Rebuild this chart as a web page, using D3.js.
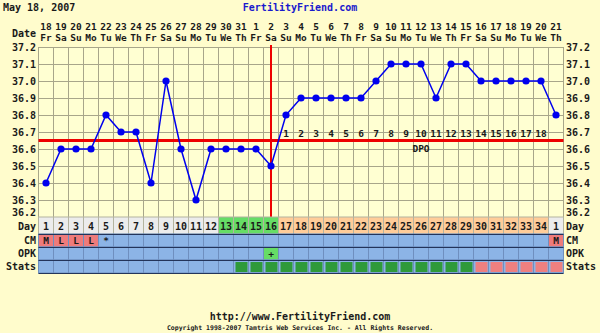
<!DOCTYPE html>
<html>
<head>
<meta charset="utf-8">
<script src="https://cdn.jsdelivr.net/npm/d3@7"></script>
<style>
  body { margin: 0; background: #fffccc; }
  svg { display: block; }
  text { font-family: "DejaVu Sans Mono", monospace; font-weight: bold; }
</style>
</head>
<body>
<div id="chart"></div>
<script>
// chart data
let dates = [18, 19, 20, 21, 22, 23, 24, 25, 26, 27, 28, 29, 30, 31,
  1, 2, 3, 4, 5, 6, 7, 8, 9, 10, 11, 12, 13, 14, 15, 16, 17, 18, 19, 20, 21];
let weekdays = ["Fr", "Sa", "Su", "Mo", "Tu", "We", "Th"];
let cycleDays = [1, 2, 3, 4, 5, 6, 7, 8, 9, 10, 11, 12, 13, 14, 15, 16, 17,
  18, 19, 20, 21, 22, 23, 24, 25, 26, 27, 28, 29, 30, 31, 32, 33, 34, 1];
let temps = [36.4, 36.6, 36.6, 36.6, 36.8, 36.7, 36.7, 36.4, 37.0, 36.6, 36.3,
  36.6, 36.6, 36.6, 36.6, 36.5, 36.8, 36.9, 36.9, 36.9, 36.9, 36.9, 37.0,
  37.1, 37.1, 37.1, 36.9, 37.1, 37.1, 37.0, 37.0, 37.0, 37.0, 37.0, 36.8];
let tempTicks = [36.2, 36.3, 36.4, 36.5, 36.6, 36.7, 36.8, 36.9, 37.0, 37.1, 37.2];
let coverline = 36.65;
let ovulationDay = 16; // cycle day index (1 based)
let dpo = [1, 2, 3, 4, 5, 6, 7, 8, 9, 10, 11, 12, 13, 14, 15, 16, 17, 18];
// day row colour groups: "n" normal, "f" fertile, "l" luteal
let dayType = ["n", "n", "n", "n", "n", "n", "n", "n", "n", "n", "n", "n",
  "f", "f", "f", "f",
  "l", "l", "l", "l", "l", "l", "l", "l", "l", "l", "l", "l", "l", "l", "l", "l", "l", "l",
  "n"];
let cm = ["M", "L", "L", "L", "*", "", "", "", "", "", "", "", "", "", "", "", "",
  "", "", "", "", "", "", "", "", "", "", "", "", "", "", "", "", "", "M"];
let opk = ["", "", "", "", "", "", "", "", "", "", "", "", "", "", "", "+", "",
  "", "", "", "", "", "", "", "", "", "", "", "", "", "", "", "", "", ""];
// stats: "" none, "g" green, "p" pink
let stats = ["", "", "", "", "", "", "", "", "", "", "", "", "",
  "g", "g", "g", "g", "g", "g", "g", "g", "g", "g", "g", "g", "g", "g", "g", "g",
  "p", "p", "p", "p", "p", "p"];

let attrs = {
  width: 600,
  height: 333,
  left: 38.5,
  right: 563.5,
  top: 47,
  bottom: 217,
  gridColor: "#a8a68a",
  lineColor: "#0000ee",
  red: "#ee0000",
  blue: "#8cb4e6",
  navy: "#23345a",
  textColor: "#1a1a1a",
};

let svg = d3
  .select("#chart")
  .append("svg")
  .attr("width", attrs.width)
  .attr("height", attrs.height);

let idx = d3.range(temps.length);
let x = d3.scaleBand().domain(idx).range([attrs.left, attrs.right]);
let y = d3.scaleLinear().domain([36.2, 37.2]).range([attrs.bottom, attrs.top]);
let cx = (i) => x(i) + x.bandwidth() / 2;

// header
svg.append("text").attr("x", 3).attr("y", 11).attr("font-size", 10)
  .attr("fill", attrs.textColor).text("May 18, 2007");
svg.append("text").attr("x", 300).attr("y", 11).attr("font-size", 10)
  .attr("text-anchor", "middle").attr("fill", "#1a1acc").text("FertilityFriend.com");

// plot background
svg.append("rect")
  .attr("x", attrs.left).attr("y", attrs.top)
  .attr("width", attrs.right - attrs.left).attr("height", attrs.bottom - attrs.top)
  .attr("fill", "#ffffd2");

// grid
svg.append("g").selectAll("line").data(tempTicks).enter().append("line")
  .attr("x1", attrs.left).attr("x2", attrs.right)
  .attr("y1", (d) => Math.round(y(d)) + 0.5).attr("y2", (d) => Math.round(y(d)) + 0.5)
  .attr("stroke", attrs.gridColor);
svg.append("g").selectAll("line").data(d3.range(temps.length + 1)).enter().append("line")
  .attr("x1", (i) => attrs.left + i * x.bandwidth())
  .attr("x2", (i) => attrs.left + i * x.bandwidth())
  .attr("y1", attrs.top).attr("y2", attrs.bottom)
  .attr("stroke", attrs.gridColor);

// date labels
svg.append("text").attr("x", 36).attr("y", 37).attr("font-size", 10)
  .attr("text-anchor", "end").attr("fill", attrs.textColor).text("Date");
svg.append("g").selectAll("text").data(dates).enter().append("text")
  .attr("x", (d, i) => cx(i)).attr("y", 30).attr("font-size", 9.5)
  .attr("text-anchor", "middle").attr("fill", attrs.textColor).text((d) => d);
svg.append("g").selectAll("text").data(dates).enter().append("text")
  .attr("x", (d, i) => cx(i)).attr("y", 41).attr("font-size", 9.5)
  .attr("text-anchor", "middle").attr("fill", attrs.textColor)
  .text((d, i) => weekdays[i % 7]);

// temperature axes (bottom label kept above the Day row)
let fmt = d3.format(".1f");
let labelY = (d) => Math.min(y(d) + 4, attrs.bottom - 1);
svg.append("g").selectAll("text").data(tempTicks).enter().append("text")
  .attr("x", 36).attr("y", labelY).attr("font-size", 10)
  .attr("text-anchor", "end").attr("fill", attrs.textColor).text(fmt);
svg.append("g").selectAll("text").data(tempTicks).enter().append("text")
  .attr("x", 566).attr("y", labelY).attr("font-size", 10)
  .attr("fill", attrs.textColor).text(fmt);

// coverline and ovulation line
svg.append("line")
  .attr("x1", attrs.left).attr("x2", attrs.right)
  .attr("y1", y(coverline)).attr("y2", y(coverline))
  .attr("stroke", attrs.red).attr("stroke-width", 3);
svg.append("line")
  .attr("x1", cx(ovulationDay - 1)).attr("x2", cx(ovulationDay - 1))
  .attr("y1", attrs.top - 2).attr("y2", attrs.bottom)
  .attr("stroke", attrs.red).attr("stroke-width", 2);

// DPO labels
svg.append("g").selectAll("text").data(dpo).enter().append("text")
  .attr("x", (d) => cx(ovulationDay + d - 1)).attr("y", y(coverline) - 4)
  .attr("font-size", 9.5).attr("text-anchor", "middle")
  .attr("fill", attrs.textColor).text((d) => d);
svg.append("text").attr("x", cx(25)).attr("y", y(coverline) + 11)
  .attr("font-size", 9.5).attr("text-anchor", "middle")
  .attr("fill", attrs.textColor).text("DPO");

// temperature line
let line = d3.line().x((d, i) => cx(i)).y((d) => y(d));
svg.append("path").datum(temps).attr("d", line)
  .attr("fill", "none").attr("stroke", attrs.lineColor).attr("stroke-width", 1.5);
svg.append("g").selectAll("circle").data(temps).enter().append("circle")
  .attr("cx", (d, i) => cx(i)).attr("cy", (d) => y(d)).attr("r", 3.6)
  .attr("fill", attrs.lineColor);

// bottom rows
let rows = { day: [217, 234], cm: [234, 247], opk: [247, 260], stats: [260, 273] };
let dayColors = { n: "#ececec", f: "#66dd66", l: "#ffcc99" };

svg.append("g").selectAll("rect").data(dayType).enter().append("rect")
  .attr("x", (d, i) => x(i)).attr("y", rows.day[0])
  .attr("width", x.bandwidth()).attr("height", rows.day[1] - rows.day[0])
  .attr("fill", (d) => dayColors[d]).attr("stroke", "#b4b4a0");
svg.append("g").selectAll("text").data(cycleDays).enter().append("text")
  .attr("x", (d, i) => cx(i)).attr("y", 230).attr("font-size", 10)
  .attr("text-anchor", "middle").attr("fill", attrs.textColor).text((d) => d);

function markRow(data, row, hiColor) {
  svg.append("g").selectAll("rect").data(data).enter().append("rect")
    .attr("x", (d, i) => x(i)).attr("y", row[0])
    .attr("width", x.bandwidth()).attr("height", row[1] - row[0])
    .attr("fill", (d) => (d && d !== "*" ? hiColor : attrs.blue))
    .attr("stroke", "#6f8fbf");
  svg.append("g").selectAll("text").data(data).enter().append("text")
    .attr("x", (d, i) => cx(i)).attr("y", row[1] - 3).attr("font-size", 9.5)
    .attr("text-anchor", "middle").attr("fill", attrs.textColor).text((d) => d);
}
markRow(cm, rows.cm, "#ee7b7b");
markRow(opk, rows.opk, "#66dd66");

svg.append("g").selectAll("rect").data(stats).enter().append("rect")
  .attr("x", (d, i) => x(i)).attr("y", rows.stats[0])
  .attr("width", x.bandwidth()).attr("height", rows.stats[1] - rows.stats[0])
  .attr("fill", attrs.blue).attr("stroke", "#6f8fbf");
svg.append("g").selectAll("rect").data(stats).enter().append("rect")
  .attr("x", (d, i) => x(i) + 2).attr("y", rows.stats[0] + 2)
  .attr("width", x.bandwidth() - 3).attr("height", rows.stats[1] - rows.stats[0] - 3)
  .attr("fill", (d) => (d === "g" ? "#2f9a3a" : d === "p" ? "#ee8080" : "none"));

// row separators
svg.append("g").selectAll("line").data([234, 247, 260, 273]).enter().append("line")
  .attr("x1", attrs.left).attr("x2", attrs.right)
  .attr("y1", (d) => d + 0.5).attr("y2", (d) => d + 0.5)
  .attr("stroke", attrs.navy);

// row labels
let labels = [["Day", 230], ["CM", 244], ["OPK", 257], ["Stats", 270]];
svg.append("g").selectAll("text").data(labels).enter().append("text")
  .attr("x", 36).attr("y", (d) => d[1]).attr("font-size", 10)
  .attr("text-anchor", "end").attr("fill", attrs.textColor).text((d) => d[0]);
svg.append("g").selectAll("text").data(labels).enter().append("text")
  .attr("x", 566).attr("y", (d) => d[1]).attr("font-size", 10)
  .attr("fill", attrs.textColor).text((d) => d[0]);

// footer
svg.append("text").attr("x", 300).attr("y", 320).attr("font-size", 10)
  .attr("text-anchor", "middle").attr("fill", attrs.textColor)
  .text("http://www.FertilityFriend.com");
svg.append("text").attr("x", 300).attr("y", 330).attr("font-size", 6.5)
  .attr("text-anchor", "middle").attr("fill", attrs.textColor)
  .attr("font-weight", "normal")
  .text("Copyright 1998-2007 Tamtris Web Services Inc. - All Rights Reserved.");
</script>
</body>
</html>
